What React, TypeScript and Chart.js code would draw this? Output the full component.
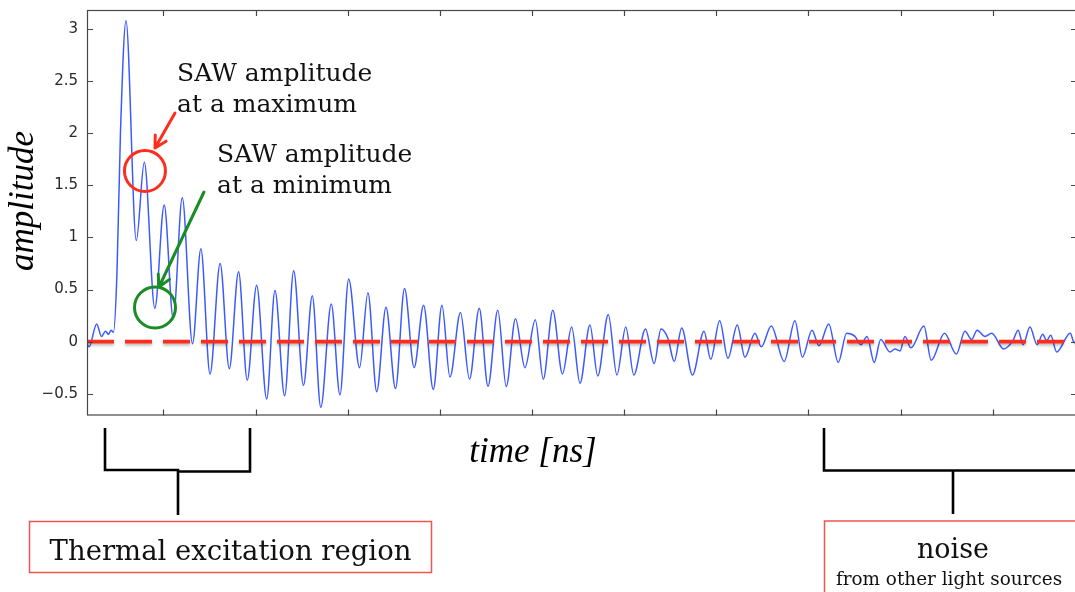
import React, { useEffect, useRef } from "react";
import { Chart, registerables } from "chart.js";

Chart.register(...registerables);

// time axis (ns, arbitrary origin) and measured amplitude at turning points of the trace
const timeNs = [
  0.171, 0.193, 0.276, 0.328, 0.372, 0.404, 0.431, 0.458, 0.496, 0.534,
  0.594, 0.706, 0.793, 0.907, 1.009, 1.107, 1.205, 1.316, 1.407, 1.506,
  1.616, 1.715, 1.816, 1.91, 2.012, 2.121, 2.211, 2.316, 2.414, 2.52,
  2.616, 2.708, 2.822, 2.916, 3.011, 3.129, 3.22, 3.315, 3.416, 3.519,
  3.617, 3.721, 3.824, 3.929, 4.023, 4.11, 4.224, 4.322, 4.428, 4.523,
  4.629, 4.721, 4.821, 4.924, 5.036, 5.123, 5.226, 5.331, 5.431, 5.521,
  5.629, 5.714, 5.828, 5.922, 6.018, 6.105, 6.232, 6.326, 6.4, 6.476,
  6.544, 6.625, 6.742, 6.867, 6.94, 7.037, 7.127, 7.228, 7.311, 7.42,
  7.488, 7.597, 7.737, 7.854, 7.935, 8.039, 8.115, 8.221, 8.324, 8.415,
  8.505, 8.57, 8.636, 8.714, 8.785, 8.885, 8.939, 8.994, 9.048, 9.113,
  9.254, 9.333, 9.477, 9.606, 9.699, 9.772, 9.831, 9.916, 9.989, 10.119,
  10.22, 10.276, 10.33, 10.404, 10.482, 10.543, 10.586, 10.63, 10.694, 10.842,
  10.885, 10.914,
];
const amplitude = [
  -0.02, -0.05, 0.17, 0.05, 0.1, 0.07, 0.11, 0.09, 0.65, 2.0,
  3.08, 0.97, 1.72, 0.32, 1.31, 0.22, 1.38, -0.02, 0.89, -0.31,
  0.75, -0.26, 0.67, -0.37, 0.54, -0.55, 0.49, -0.52, 0.68, -0.42,
  0.44, -0.63, 0.36, -0.51, 0.6, -0.25, 0.47, -0.48, 0.33, -0.45,
  0.51, -0.25, 0.35, -0.46, 0.35, -0.34, 0.28, -0.36, 0.32, -0.43,
  0.3, -0.43, 0.22, -0.25, 0.21, -0.36, 0.3, -0.31, 0.14, -0.4,
  0.16, -0.33, 0.26, -0.32, 0.14, -0.32, 0.12, -0.21, 0.12, 0.03,
  -0.19, 0.13, -0.32, 0.1, -0.17, 0.2, -0.16, 0.16, -0.15, 0.08,
  -0.05, 0.15, -0.19, 0.2, -0.15, 0.11, -0.04, 0.17, -0.2, 0.08,
  0.05, -0.03, 0.05, -0.2, 0.02, -0.1, -0.07, -0.09, 0.05, -0.06,
  0.15, -0.18, 0.08, -0.12, 0.1, 0.02, 0.11, 0.05, 0.08, -0.07,
  0.01, 0.11, -0.03, 0.14, -0.03, 0.07, 0.01, 0.06, -0.1, 0.08,
  -0.01, 0.03,
];

const xRange = [0.171, 10.915];
const yRange = [-0.709, 3.182];
const xTickValues = [1, 2, 3, 4, 5, 6, 7, 8, 9, 10];
const yTickValues = [-0.5, 0, 0.5, 1, 1.5, 2, 2.5, 3];
const zeroLevel = [0, 0];

// annotated points (time, amplitude)
const maxMarker = [0.8, 1.637];
const minMarker = [0.909, 0.327];

const RED = "rgb(255,45,30)";
const GREEN = "rgb(25,140,35)";

function drawArrow(ctx: CanvasRenderingContext2D, x1: number, y1: number, x2: number, y2: number, color: string) {
  const ang = Math.atan2(y2 - y1, x2 - x1);
  const hl = 13;
  const ha = 0.5;
  ctx.save();
  ctx.strokeStyle = color;
  ctx.lineWidth = 3;
  ctx.lineCap = "round";
  ctx.lineJoin = "round";
  ctx.beginPath();
  ctx.moveTo(x1, y1);
  ctx.lineTo(x2, y2);
  ctx.moveTo(x2 - hl * Math.cos(ang - ha), y2 - hl * Math.sin(ang - ha));
  ctx.lineTo(x2, y2);
  ctx.lineTo(x2 - hl * Math.cos(ang + ha), y2 - hl * Math.sin(ang + ha));
  ctx.stroke();
  ctx.restore();
}

const frameAndNotes = {
  id: "frameAndNotes",
  beforeDatasetDraw(chart: any, args: any) {
    if (args.index === 0) {
      const ctx = chart.ctx;
      ctx.save();
      ctx.shadowColor = "rgba(0,0,0,0.28)";
      ctx.shadowBlur = 3;
      ctx.shadowOffsetY = 2;
    }
  },
  afterDatasetDraw(chart: any, args: any) {
    if (args.index === 0) chart.ctx.restore();
  },
  afterDraw(chart: any) {
    const ctx: CanvasRenderingContext2D = chart.ctx;
    const { left, right, top, bottom } = chart.chartArea;
    const xs = chart.scales.x;
    const ys = chart.scales.y;
    ctx.save();
    // frame
    ctx.strokeStyle = "#474747";
    ctx.lineWidth = 1.2;
    ctx.strokeRect(left + 0.5, top + 0.5, right - left - 1, bottom - top - 1);
    ctx.beginPath();
    xTickValues.forEach((v) => {
      const px = Math.round(xs.getPixelForValue(v)) + 0.5;
      ctx.moveTo(px, bottom);
      ctx.lineTo(px, bottom - 6);
      ctx.moveTo(px, top);
      ctx.lineTo(px, top + 6);
    });
    yTickValues.forEach((v) => {
      const py = Math.round(ys.getPixelForValue(v)) + 0.5;
      ctx.moveTo(left, py);
      ctx.lineTo(left + 6, py);
      ctx.moveTo(right, py);
      ctx.lineTo(right - 6, py);
    });
    ctx.stroke();

    // axis titles
    ctx.fillStyle = "#000";
    ctx.font = 'italic 35px "Liberation Serif"';
    ctx.textAlign = "center";
    ctx.textBaseline = "alphabetic";
    ctx.fillText("time [ns]", 533, 462);
    ctx.save();
    ctx.translate(33, 201);
    ctx.rotate(-Math.PI / 2);
    ctx.fillText("amplitude", 0, 0);
    ctx.restore();

    // circles
    ctx.lineWidth = 3;
    ctx.strokeStyle = RED;
    ctx.beginPath();
    ctx.arc(xs.getPixelForValue(maxMarker[0]), ys.getPixelForValue(maxMarker[1]), 20.5, 0, Math.PI * 2);
    ctx.stroke();
    ctx.strokeStyle = GREEN;
    ctx.beginPath();
    ctx.arc(xs.getPixelForValue(minMarker[0]), ys.getPixelForValue(minMarker[1]), 20.5, 0, Math.PI * 2);
    ctx.stroke();
    drawArrow(ctx, 175, 113, 155, 148, RED);
    drawArrow(ctx, 204, 192, 159, 287, GREEN);

    // annotation text
    ctx.fillStyle = "#111";
    ctx.textAlign = "left";
    ctx.font = '25px "DejaVu Serif"';
    ctx.fillText("SAW amplitude", 177, 81);
    ctx.fillText("at a maximum", 177, 112);
    ctx.fillText("SAW amplitude", 217, 162);
    ctx.fillText("at a minimum", 217, 193);

    // brackets
    ctx.strokeStyle = "#000";
    ctx.lineWidth = 2.6;
    ctx.lineCap = "butt";
    ctx.lineJoin = "miter";
    ctx.beginPath();
    ctx.moveTo(105, 428);
    ctx.lineTo(105, 470);
    ctx.lineTo(178, 470);
    ctx.lineTo(178, 471.5);
    ctx.lineTo(250, 471.5);
    ctx.lineTo(250, 428);
    ctx.moveTo(178, 470);
    ctx.lineTo(178, 515);
    ctx.moveTo(824, 428);
    ctx.lineTo(824, 470.5);
    ctx.lineTo(1080, 470.5);
    ctx.moveTo(953, 470.5);
    ctx.lineTo(953, 514);
    ctx.stroke();

    // boxes
    ctx.strokeStyle = "rgb(240,85,80)";
    ctx.lineWidth = 1.5;
    ctx.strokeRect(29.5, 521.5, 402, 51);
    ctx.strokeRect(824.5, 521, 260, 80);
    ctx.fillStyle = "#111";
    ctx.textAlign = "center";
    ctx.font = '27.5px "DejaVu Serif"';
    ctx.fillText("Thermal excitation region", 230.5, 559.5);
    ctx.font = '27px "DejaVu Serif"';
    ctx.fillText("noise", 953, 558);
    ctx.font = '18.4px "DejaVu Serif"';
    ctx.fillText("from other light sources", 949, 584.5);
    ctx.restore();
  },
};

export default function App() {
  const ref = useRef<HTMLCanvasElement>(null);
  useEffect(() => {
    document.body.style.margin = "0";
    const canvas = ref.current!;
    const chart = new Chart(canvas, {
      type: "line",
      data: {
        datasets: [
          {
            data: xRange.map((t, i) => ({ x: t, y: zeroLevel[i] })),
            borderColor: RED,
            borderWidth: 3.6,
            borderDash: [27, 11],
            borderCapStyle: "butt",
            pointRadius: 0,
            order: 0,
          },
          {
            data: timeNs.map((t, i) => ({ x: t, y: amplitude[i] })),
            borderColor: "rgb(60,90,255)",
            borderWidth: 1.5,
            cubicInterpolationMode: "monotone",
            pointRadius: 0,
            order: 1,
          },
        ],
      },
      options: {
        responsive: false,
        maintainAspectRatio: false,
        animation: false,
        devicePixelRatio: 1,
        layout: { padding: { left: 0, top: 10, right: 8, bottom: 0 } },
        plugins: { legend: { display: false }, tooltip: { enabled: false } },
        scales: {
          x: {
            type: "linear",
            min: xRange[0],
            max: xRange[1],
            grid: { display: false, drawTicks: false },
            border: { display: false },
            ticks: { display: false },
            afterBuildTicks: (s: any) => {
              s.ticks = xTickValues.map((v) => ({ value: v }));
            },
            afterFit: (s: any) => {
              s.height = 176.5;
              s.paddingLeft = 0;
              s.paddingRight = 0;
            },
          },
          y: {
            type: "linear",
            min: yRange[0],
            max: yRange[1],
            grid: { display: false, drawTicks: false },
            border: { display: false },
            afterBuildTicks: (s: any) => {
              s.ticks = yTickValues.map((v) => ({ value: v }));
            },
            ticks: {
              padding: 9,
              color: "#2a2a2a",
              font: { family: '"DejaVu Sans"', size: 15 },
              callback: (v: any) => (v < 0 ? "\u2212" + String(Math.abs(v)) : String(v)),
            },
            afterFit: (s: any) => {
              s.width = 87;
              s.paddingTop = 0;
              s.paddingBottom = 0;
            },
          },
        },
      },
      plugins: [frameAndNotes],
    });
    return () => chart.destroy();
  }, []);
  return (
    <div style={{ position: "fixed", left: 0, top: 0, width: 1075, height: 592, overflow: "hidden", background: "#fff" }}>
      <canvas ref={ref} width={1085} height={592} style={{ display: "block" }} />
    </div>
  );
}
